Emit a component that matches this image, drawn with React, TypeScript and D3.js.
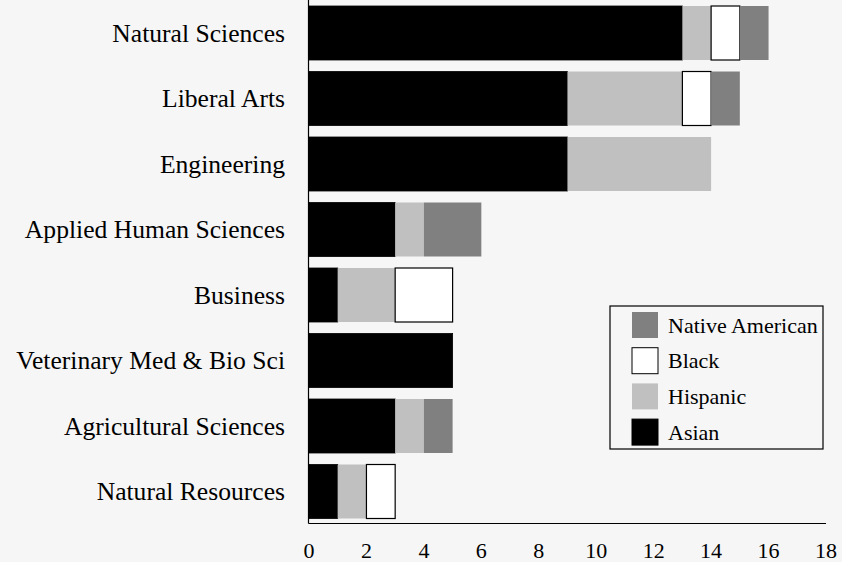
import React from "react";
import * as d3 from "d3";

const categories = [
  "Natural Sciences",
  "Liberal Arts",
  "Engineering",
  "Applied Human Sciences",
  "Business",
  "Veterinary Med & Bio Sci",
  "Agricultural Sciences",
  "Natural Resources",
];
const seriesNames = ["Asian", "Hispanic", "Black", "Native American"];
const asian = [13, 9, 9, 3, 1, 5, 3, 1];
const hispanic = [1, 4, 5, 1, 2, 0, 1, 1];
const black = [1, 1, 0, 0, 2, 0, 0, 1];
const nativeAmerican = [1, 1, 0, 2, 0, 0, 1, 0];
const xTicks = [0, 2, 4, 6, 8, 10, 12, 14, 16, 18];
const legendOrder = ["Native American", "Black", "Hispanic", "Asian"];

const colors: Record<string, string> = {
  Asian: "#000000",
  Hispanic: "#c0c0c0",
  Black: "#ffffff",
  "Native American": "#808080",
};

export default function App() {
  const W = 842, H = 562;
  const left = 309, right = 826, axisY = 523.5;
  const x = d3.scaleLinear().domain([0, 18]).range([left, right]);
  const y = d3.scaleBand().domain(categories).range([6, 518.5]).paddingInner(11.5 / 65.5).paddingOuter(0);

  const rows = categories.map((c, i) => ({
    cat: c,
    Asian: asian[i],
    Hispanic: hispanic[i],
    Black: black[i],
    "Native American": nativeAmerican[i],
  }));
  const stack = d3.stack<any>().keys(seriesNames)(rows);

  const font = "'Liberation Serif', 'Times New Roman', serif";
  const lg = { x: 610, y: 306, w: 213, h: 143 };

  return (
    <svg width={W} height={H} style={{ position: "fixed", left: 0, top: 0, background: "#f6f6f6" }} fontFamily={font}>
      <rect x={0} y={0} width={W} height={H} fill="#f6f6f6" />
      {stack.map((s) =>
        s.map((d, i) => {
          const v = d[1] - d[0];
          if (v <= 0) return null;
          const key = s.key;
          const isWhite = key === "Black";
          return (
            <rect
              key={key + i}
              x={x(d[0])}
              y={y(categories[i])!}
              width={x(d[1]) - x(d[0])}
              height={y.bandwidth()}
              fill={colors[key]}
              stroke={isWhite ? "#000" : key === "Asian" ? "#000" : "none"}
              strokeWidth={isWhite ? 1.2 : 0.8}
            />
          );
        })
      )}
      <line x1={left - 0.5} x2={left - 0.5} y1={0} y2={axisY} stroke="#000" strokeWidth={1.2} />
      <line x1={left - 0.5} x2={right} y1={axisY} y2={axisY} stroke="#000" strokeWidth={1.2} />
      {categories.map((c) => (
        <text key={c} x={285} y={y(c)! + y.bandwidth() / 2 + 8.5} textAnchor="end" fontSize={25.6}>
          {c}
        </text>
      ))}
      {xTicks.map((t) => (
        <text key={t} x={x(t)} y={558} textAnchor="middle" fontSize={22}>
          {t}
        </text>
      ))}
      <rect x={lg.x} y={lg.y} width={lg.w} height={lg.h} fill="#f6f6f6" stroke="#000" strokeWidth={1.2} />
      {legendOrder.map((k, i) => {
        const cy = 325 + i * 35.7;
        return (
          <g key={k}>
            <rect x={632} y={cy - 13} width={26} height={26} fill={colors[k]} stroke={k === "Black" || k === "Asian" ? "#000" : "none"} strokeWidth={1} />
            <text x={668} y={cy + 7.5} fontSize={22}>
              {k}
            </text>
          </g>
        );
      })}
    </svg>
  );
}
